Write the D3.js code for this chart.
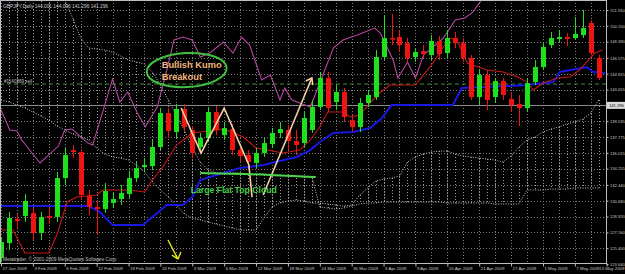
<!DOCTYPE html>
<html>
<head>
<meta charset="utf-8">
<script src="https://cdn.jsdelivr.net/npm/d3@7"></script>
<style>
body { margin: 0; background: #000; }
svg { display: block; }
</style>
</head>
<body>
<div id="chart"></div>
<script>
// GBPJPY daily, 27 Jan - 13 May 2009, Ichimoku
const dates = ["27 Jan 2009","3 Feb 2009","6 Feb 2009","12 Feb 2009","18 Feb 2009","24 Feb 2009","3 Mar 2009","6 Mar 2009","12 Mar 2009","18 Mar 2009","24 Mar 2009","30 Mar 2009","3 Apr 2009","9 Apr 2009","16 Apr 2009","21 Apr 2009","27 Apr 2009","1 May 2009","7 May 2009","13 May 2009"]
const dateBars = [0,4,8,12,16,20,24,28,32,36,40,44,48,52,56,60,64,68,72,76]

const priceTicks = [151.910,150.150,148.390,146.575,144.815,143.055,139.535,137.775,136.015,134.255,132.440,130.680,128.920,127.160,125.400,123.640]
const bidPrice = 141.296
const orderPrice = 143.67

const opens  = [124.31,125.97,128.65,128.98,129.31,127.09,128.98,128.87,133.21,136.32,136.10,131.21,129.98,129.76,130.43,130.87,131.43,133.21,134.43,134.54,136.66,140.44,138.33,140.89,138.55,136.66,137.66,140.55,137.99,138.66,136.32,135.77,134.88,135.99,136.99,138.22,138.55,137.33,137.10,138.55,141.11,144.34,141.67,142.78,139.66,138.89,141.56,142.22,146.68,148.79,148.90,148.23,146.68,147.34,146.90,148.46,147.12,148.79,148.23,146.57,142.22,144.67,142.22,144.00,142.00,141.45,141.00,143.89,145.56,148.01,148.68,148.90,148.79,149.12,150.46,146.57]
const highs  = [126.53,129.42,129.20,131.43,129.87,129.42,129.87,133.88,136.55,136.88,136.44,131.87,130.76,132.65,131.54,132.43,133.88,134.99,135.43,137.44,141.00,141.00,141.45,141.45,139.00,138.22,141.11,141.22,139.44,139.22,136.88,136.32,136.55,137.66,138.77,139.44,139.11,138.55,140.55,141.89,145.01,145.01,143.56,143.23,140.22,142.11,143.00,147.46,151.35,151.46,149.68,148.79,147.68,148.01,149.12,149.01,149.68,149.46,148.79,146.90,145.23,145.23,144.34,144.34,142.78,142.45,144.34,146.34,148.35,149.46,149.68,149.35,151.13,151.91,150.79,146.90]
const lows   = [123.86,125.19,127.64,128.31,126.31,126.31,128.09,128.31,132.43,135.43,130.76,129.09,126.86,129.31,129.87,130.20,130.98,132.76,133.88,134.10,136.32,137.66,137.66,138.33,135.43,136.10,137.22,137.99,137.44,135.77,134.99,134.10,134.32,135.55,136.55,137.66,136.32,135.77,136.66,138.22,140.78,140.55,140.78,139.44,138.33,138.33,141.11,141.89,146.34,148.01,147.23,146.12,146.12,146.57,146.34,146.34,146.57,147.68,146.12,141.89,141.33,140.78,141.56,141.89,140.55,139.00,140.55,143.56,145.23,147.68,148.35,147.90,148.57,148.79,146.90,144.12]
const closes = [126.09,128.76,128.42,130.65,127.09,128.87,128.76,133.21,135.77,136.10,131.32,129.98,129.76,131.76,130.87,131.54,133.21,134.32,134.66,136.66,140.44,138.44,140.89,138.89,135.99,137.66,140.55,138.55,138.77,136.32,135.66,134.99,135.99,137.10,138.22,138.66,137.33,136.88,139.89,141.11,144.34,141.00,142.78,140.00,138.89,141.56,142.45,146.68,148.79,148.68,148.01,146.57,147.23,147.01,148.46,147.01,148.79,148.23,146.57,142.22,144.67,141.89,144.00,142.45,141.33,141.00,143.78,145.56,147.79,148.79,148.90,148.68,149.24,149.90,147.12,144.34]

// indicator lines as [bar, price]
const tenkan = [[0,127.42],[1.5,127.42],[3,124.86],[6,124.86],[7,126.86],[8.3,130.54],[9.5,131.09],[12,131.32],[12.8,131.87],[16,131.87],[18,131.65],[19,132.99],[20.3,134.43],[21,135.43],[22,136.88],[24,138.22],[28,138.66],[30.4,137.77],[32,136.55],[35.4,135.99],[37.5,136.32],[38.8,137.44],[40,138.89],[41,140.55],[43,140.55],[43.8,140.00],[45,140.22],[46.3,141.56],[47.5,142.67],[48.8,143.56],[52,143.56],[53,144.67],[54.2,146.01],[55.5,147.79],[56.3,148.79],[57.2,148.57],[58.5,146.01],[61,145.23],[63,145.01],[64.9,144.45],[66,143.89],[66.8,143.00],[68,143.78],[69.8,144.34],[71.4,144.45],[72.6,145.23],[73.7,146.34],[74.5,147.12],[75.5,147.46]]
const kijun = [[0,130.09],[11,130.09],[12.4,129.42],[14,127.98],[17.8,127.98],[19,128.87],[20.8,130.20],[22.8,130.20],[24,131.09],[25,132.99],[26.2,133.32],[30,134.32],[32.9,134.66],[37.1,135.55],[38.8,136.32],[40,137.22],[41.7,138.22],[44.2,138.33],[46.3,138.77],[47.8,139.89],[49,141.33],[56.7,141.33],[57.8,143.23],[66,143.56],[69.3,143.89],[70.1,145.01],[73.5,145.56],[74.3,145.01],[75.8,144.90]]
const chikou = [[0,140.78],[1.1,138.55],[2,138.44],[2.6,137.44],[4.9,134.88],[7.2,136.77],[8,138.55],[8.9,138.66],[10.9,137.10],[11.5,136.88],[14,144.23],[14.9,141.67],[15.9,142.78],[17.1,140.44],[18.1,138.89],[19.6,141.11],[20.8,145.23],[21.7,148.57],[22.8,148.90],[24,148.57],[25,146.68],[26.2,147.12],[27.9,148.35],[29.1,147.12],[30.2,148.90],[31.2,148.01],[32.7,144.12],[33.8,144.67],[35,141.89],[35.6,143.23],[36.5,141.89],[37.5,141.56],[38.8,141.11],[40,143.78],[41.7,147.68],[42.9,148.57],[44.7,149.12],[46.9,149.90],[47.6,149.35],[49.2,146.34],[49.8,144.34],[51,146.12],[52,144.34],[53,146.90],[54.5,148.01],[55.5,148.79],[57,150.79],[58.2,151.02],[59.2,151.68],[60.1,152.80],[61,153.91]]

// cloud spans, one value per bar
const spanA = [141.89,141.67,141.33,141.00,140.55,140.11,139.66,139.00,138.55,138.11,137.77,137.44,136.55,135.88,135.55,135.43,135.21,134.66,133.88,132.76,131.87,131.09,130.20,129.20,128.76,128.54,128.31,128.09,127.87,127.64,127.42,127.42,127.42,128.76,129.98,130.43,130.65,130.76,130.65,130.43,130.43,130.32,130.20,130.09,130.20,131.32,132.10,132.87,133.10,133.21,133.43,134.99,135.55,135.88,136.10,136.21,136.21,135.88,135.66,135.55,135.43,135.32,135.21,134.99,135.66,136.66,137.44,137.77,138.33,138.66,138.89,139.22,139.44,139.78,140.44,141.89]
const spanB = [159.70,158.59,157.47,156.58,155.80,155.02,154.36,153.69,153.02,151.02,148.79,147.68,147.57,147.46,147.23,146.79,146.34,146.12,145.90,145.01,143.56,141.89,140.22,138.55,136.55,134.99,134.10,133.77,133.77,133.77,133.77,133.65,133.65,133.65,133.54,133.54,133.43,133.43,133.32,133.32,129.98,129.87,129.76,129.87,130.09,130.32,130.43,130.43,130.54,130.54,130.54,130.54,130.54,130.54,130.54,130.54,130.43,130.43,130.43,130.43,130.43,130.43,130.32,130.32,130.32,130.32,131.87,131.87,131.87,131.98,131.98,131.98,132.10,132.10,132.10,132.10]

// hand drawn notes, in [bar, price]
const zigzag = [[22.6,141.00],[25.1,135.99],[28.0,141.00],[31.1,134.66],[31.5,131.09]]
const upArrow = [[32.9,131.32],[39.0,144.34]]
const flatTop = [[25.0,133.77],[31.2,133.65],[33.75,133.54],[39.5,133.32]]
const yellowArrow = [[20.95,126.31],[22.2,124.19]]

const W = 625, H = 274
const plotRight = 606, plotBottom = 263

const svg = d3.select("#chart").append("svg")
	.attr("width", W)
	.attr("height", H)
	.style("background", "#000")

const x = d3.scaleLinear().domain([0, 75]).range([1, 598.75])
const y = d3.scaleLinear().domain([123.64, 151.91]).range([264, 10])

svg.append("clipPath").attr("id", "plot")
	.append("rect").attr("x", 0).attr("y", 1).attr("width", plotRight).attr("height", plotBottom - 1)

const plot = svg.append("g").attr("clip-path", "url(#plot)")

// grid
const gridColor = "#7d7d7d"
plot.append("g").selectAll("line")
	.data(priceTicks.concat([bidPrice]))
	.join("line")
	.attr("x1", 0).attr("x2", plotRight)
	.attr("y1", d => Math.round(y(d)) + 0.5).attr("y2", d => Math.round(y(d)) + 0.5)
	.attr("stroke", gridColor).attr("stroke-dasharray", "1,2")
plot.append("g").selectAll("line")
	.data(d3.range(0, 77, 2))
	.join("line")
	.attr("x1", d => Math.round(x(d)) + 0.5).attr("x2", d => Math.round(x(d)) + 0.5)
	.attr("y1", 0).attr("y2", plotBottom)
	.attr("stroke", gridColor).attr("stroke-dasharray", "1,2")

// kumo hatch + span lines
plot.append("g").selectAll("line")
	.data(spanA.map((a, i) => [i, a, spanB[i]]))
	.join("line")
	.attr("x1", d => Math.round(x(d[0])) + 0.5).attr("x2", d => Math.round(x(d[0])) + 0.5)
	.attr("y1", d => y(d[1])).attr("y2", d => y(d[2]))
	.attr("stroke", "#9a9a9a").attr("stroke-dasharray", "1,2")

const spanLine = d3.line().x((d, i) => x(i)).y(d => y(d))
;[spanA, spanB].forEach(s => {
	plot.append("path").attr("d", spanLine(s))
		.attr("fill", "none").attr("stroke", "#c8c8c8").attr("stroke-dasharray", "1,1.5")
})

// order and bid lines
plot.append("line")
	.attr("x1", 0).attr("x2", plotRight)
	.attr("y1", y(orderPrice)).attr("y2", y(orderPrice))
	.attr("stroke", "#3f8f3f").attr("stroke-dasharray", "4,3")
plot.append("line")
	.attr("x1", 0).attr("x2", plotRight)
	.attr("y1", Math.round(y(bidPrice)) + 0.5).attr("y2", Math.round(y(bidPrice)) + 0.5)
	.attr("stroke", "#8a8a8a")

// ichimoku lines
const pl = d3.line().x(d => x(d[0])).y(d => y(d[1]))
plot.append("path").attr("d", pl(kijun)).attr("fill", "none").attr("stroke", "#1818e0").attr("stroke-width", 2)
plot.append("path").attr("d", pl(tenkan)).attr("fill", "none").attr("stroke", "#c81818").attr("stroke-width", 1.1)
plot.append("path").attr("d", pl(chikou)).attr("fill", "none").attr("stroke", "#b5479f").attr("stroke-width", 1.1)

// candles
const bull = "#1ee01e", bear = "#ee1414"
const candles = opens.map((o, i) => ({i: i, o: o, h: highs[i], l: lows[i], c: closes[i]}))
const cg = plot.append("g")
cg.selectAll("line")
	.data(candles)
	.join("line")
	.attr("x1", d => Math.round(x(d.i)) + 0.5).attr("x2", d => Math.round(x(d.i)) + 0.5)
	.attr("y1", d => y(d.h)).attr("y2", d => y(d.l))
	.attr("stroke", d => d.c >= d.o ? bull : bear)
cg.selectAll("rect")
	.data(candles)
	.join("rect")
	.attr("x", d => Math.round(x(d.i)) - 2)
	.attr("width", 5)
	.attr("y", d => y(Math.max(d.o, d.c)))
	.attr("height", d => Math.max(1.5, Math.abs(y(d.o) - y(d.c))))
	.attr("fill", d => d.c >= d.o ? bull : bear)

// notes
const notes = svg.append("g").attr("clip-path", "url(#plot)")
notes.append("path").attr("d", pl(zigzag)).attr("fill", "none").attr("stroke", "#f5d2a4").attr("stroke-width", 1.6)
notes.append("path").attr("d", pl(upArrow)).attr("fill", "none").attr("stroke", "#f5d2a4").attr("stroke-width", 1.6)
const tip = [x(upArrow[1][0]), y(upArrow[1][1])]
notes.append("path")
	.attr("d", `M${tip[0] - 6},${tip[1] + 3}L${tip[0]},${tip[1]}L${tip[0] + 1},${tip[1] + 7}`)
	.attr("fill", "none").attr("stroke", "#f5d2a4").attr("stroke-width", 1.6)
notes.append("path").attr("d", d3.line().curve(d3.curveBasis).x(d => x(d[0])).y(d => y(d[1]))(flatTop))
	.attr("fill", "none").attr("stroke", "#4cd44c").attr("stroke-width", 2)

const ec = [x(23.3), y(145.23)]
notes.append("ellipse")
	.attr("cx", ec[0]).attr("cy", ec[1]).attr("rx", 40).attr("ry", 17)
	.attr("transform", `rotate(-3 ${ec[0]} ${ec[1]})`)
	.attr("fill", "none").attr("stroke", "#3fbf3f").attr("stroke-width", 2)
notes.append("text").attr("x", ec[0] - 25).attr("y", ec[1] - 2)
	.attr("fill", "#f3b47c").attr("font-family", "Liberation Sans, Arial").attr("font-weight", "bold").attr("font-size", "9.3px")
	.text("Bullish Kumo")
notes.append("text").attr("x", ec[0] - 25).attr("y", ec[1] + 10)
	.attr("fill", "#f3b47c").attr("font-family", "Liberation Sans, Arial").attr("font-weight", "bold").attr("font-size", "9.3px")
	.text("Breakout")
notes.append("text").attr("x", x(23.8)).attr("y", y(131.54))
	.attr("fill", "#46cf46").attr("font-family", "Liberation Sans, Arial").attr("font-weight", "bold").attr("font-size", "8.7px")
	.text("Large Flat Top Cloud")

const ya = yellowArrow.map(d => [x(d[0]), y(d[1])])
notes.append("path")
	.attr("d", `M${ya[0][0]},${ya[0][1]}L${ya[1][0]},${ya[1][1]}M${ya[1][0] - 6},${ya[1][1] - 4}L${ya[1][0]},${ya[1][1]}L${ya[1][0] + 3},${ya[1][1] - 7}`)
	.attr("fill", "none").attr("stroke", "#e6e61a").attr("stroke-width", 1.4)

// frame
svg.append("rect").attr("x", 0.5).attr("y", 0.5).attr("width", plotRight).attr("height", plotBottom)
	.attr("fill", "none").attr("stroke", "#bdbdbd")

// axes
const smallFont = "Liberation Sans, Arial"
const yAxis = svg.append("g")
	.attr("transform", `translate(${plotRight + 0.5},0)`)
	.call(d3.axisRight(y).tickValues(priceTicks).tickSize(2).tickPadding(1.5).tickFormat(d3.format(".3f")))
yAxis.select(".domain").remove()
yAxis.selectAll("line").attr("stroke", "#bdbdbd")
yAxis.selectAll("text").attr("fill", "#c8c8c8").attr("font-size", "4.1px").attr("font-family", smallFont)

const xAxis = svg.append("g")
	.attr("transform", `translate(0,${plotBottom + 0.5})`)
	.call(d3.axisBottom(x).tickValues(dateBars).tickSize(3).tickPadding(2).tickFormat((d, i) => dates[i]))
xAxis.select(".domain").remove()
xAxis.selectAll("line").attr("stroke", "#bdbdbd")
xAxis.selectAll("text").attr("fill", "#c8c8c8").attr("font-size", "4.4px").attr("font-family", smallFont)
	.attr("text-anchor", "start").attr("dx", 1).attr("dy", "0.3em")
// last date sits at the window edge, keep it inside
xAxis.selectAll(".tick").filter(d => d === dateBars[dateBars.length - 1]).select("text")
	.attr("text-anchor", "end").attr("x", W - 1 - x(dateBars[dateBars.length - 1])).attr("dx", 0)

// bid label
const bidY = y(bidPrice)
svg.append("rect").attr("x", plotRight + 1).attr("y", bidY - 3.5).attr("width", 18).attr("height", 7).attr("fill", "#dcdcdc")
svg.append("text").attr("x", plotRight + 3).attr("y", bidY + 1.5)
	.attr("fill", "#000").attr("font-size", "4.1px").attr("font-family", smallFont)
	.text(d3.format(".3f")(bidPrice))

// header texts
svg.append("text").attr("x", 3).attr("y", 8)
	.attr("fill", "#d0d0d0").attr("font-size", "4.8px").attr("font-family", smallFont)
	.text("GBPJPY,Daily  144.001 144.096 141.296 141.296")
svg.append("text").attr("x", 3).attr("y", 261)
	.attr("fill", "#c0c0c0").attr("font-size", "4.8px").attr("font-family", smallFont)
	.text("Metatrader, © 2001-2009 MetaQuotes Software Corp.")
svg.append("text").attr("x", 4).attr("y", y(orderPrice) - 1.5)
	.attr("fill", "#c0c0c0").attr("font-size", "4.6px").attr("font-family", smallFont)
	.text("#1140369 sell")
</script>
</body>
</html>
